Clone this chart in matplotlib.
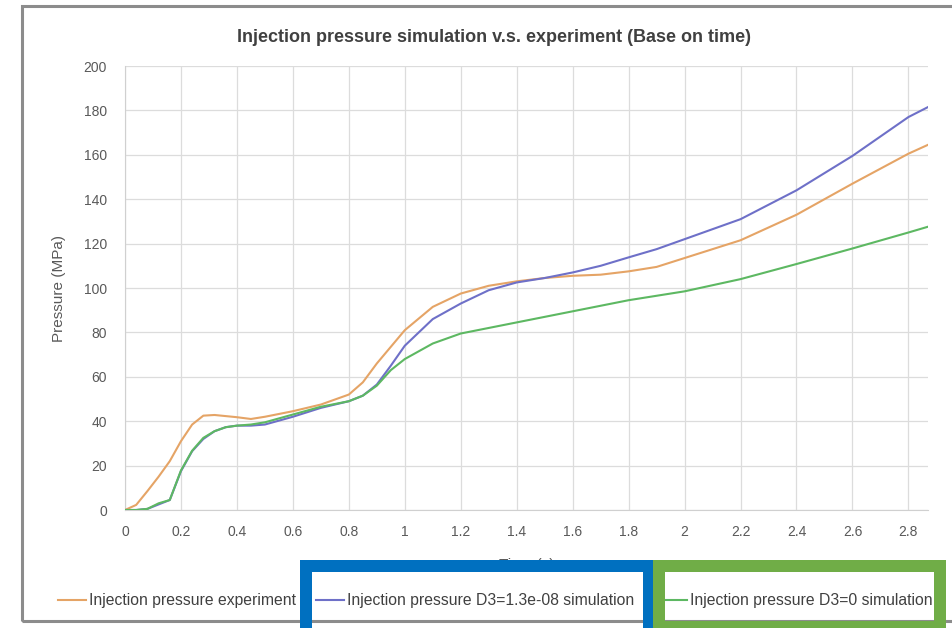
import matplotlib
matplotlib.use("Agg")
import matplotlib.pyplot as plt
from matplotlib.patches import Rectangle

plt.rcParams['font.family'] = ['Liberation Sans', 'DejaVu Sans']

# ---- data ----
time_s = [0, 0.04, 0.08, 0.12, 0.16, 0.2, 0.24, 0.28, 0.32, 0.36, 0.4, 0.45, 0.5,
          0.6, 0.7, 0.8, 0.85, 0.9, 0.95, 1.0, 1.1, 1.2, 1.3, 1.4, 1.5, 1.6, 1.7,
          1.8, 1.9, 2.0, 2.2, 2.4, 2.6, 2.8, 2.87]
p_experiment = [0, 2.3, 8.5, 15, 22, 31, 38.5, 42.5, 42.8, 42.3, 41.8, 41, 42,
                44.5, 47.5, 52, 57.5, 66, 73.5, 81, 91.5, 97.5, 101, 103, 104.5, 105.5, 106,
                107.5, 109.5, 113.5, 121.5, 133, 147, 160.5, 164.5]
p_sim_d3 = [0, 0, 0.5, 2.5, 4.5, 17.5, 26.5, 32, 35.5, 37.3, 38, 38, 38.5,
            42, 46, 49, 51.5, 56.5, 65, 74, 86, 93, 99, 102.5, 104.5, 107, 110,
            113.8, 117.5, 122, 131, 144, 159.5, 177, 181.5]
p_sim_d0 = [0, 0, 0.5, 3, 4.5, 17.8, 26.7, 32.5, 35.5, 37.3, 38, 38.5, 39.5,
            43, 46.5, 49, 51.5, 56, 63, 68, 75, 79.5, 82, 84.5, 87, 89.5, 92,
            94.5, 96.5, 98.5, 104, 110.8, 117.8, 125, 127.6]
series_labels = ["Injection pressure experiment",
                 "Injection pressure D3=1.3e-08 simulation",
                 "Injection pressure D3=0 simulation"]
series_colors = ["#E5A466", "#6E70C8", "#5DB862"]
x_ticks = [0, 0.2, 0.4, 0.6, 0.8, 1, 1.2, 1.4, 1.6, 1.8, 2, 2.2, 2.4, 2.6, 2.8]
x_ticklabels = ["0", "0.2", "0.4", "0.6", "0.8", "1", "1.2", "1.4", "1.6", "1.8",
                "2", "2.2", "2.4", "2.6", "2.8"]
y_ticks = [0, 20, 40, 60, 80, 100, 120, 140, 160, 180, 200]

W, H = 953, 628
fig = plt.figure(figsize=(W / 100, H / 100), dpi=100)
fig.patch.set_facecolor("white")

def fx(px):
    return px / W

def fy(py):
    return 1 - py / H

ax = fig.add_axes([fx(125), fy(510), fx(928) - fx(125), fy(66) - fy(510)])
lines = []
for vals, lab, col in zip([p_experiment, p_sim_d3, p_sim_d0], series_labels, series_colors):
    ln, = ax.plot(time_s, vals, color=col, lw=1.5, label=lab, zorder=3)
    lines.append(ln)

ax.set_xlim(0, 2.87)
ax.set_ylim(0, 200)
ax.set_xticks(x_ticks)
ax.set_xticklabels(x_ticklabels)
ax.set_yticks(y_ticks)
ax.grid(True, color="#DCDCDC", lw=0.9)
ax.set_axisbelow(True)
for s in ["top", "right"]:
    ax.spines[s].set_visible(False)
for s in ["left", "bottom"]:
    ax.spines[s].set_color("#D0D0D0")
ax.tick_params(axis="both", length=0, labelsize=10, labelcolor="#595959")
ax.tick_params(axis="y", pad=13)
ax.tick_params(axis="x", pad=11)
ax.set_ylabel("Pressure (MPa)", fontsize=11, color="#595959")
ax.yaxis.set_label_coords((66 - 125) / (928 - 125), 0.5)

fig.text(fx(494), fy(37), "Injection pressure simulation v.s. experiment (Base on time)",
         ha="center", va="center", fontsize=13, fontweight="bold", color="#404040")
fig.text(fx(527), fy(565), "Time (s)", ha="center", va="center", fontsize=11, color="#595959")

# legend entries placed individually
for ln, lab, x0 in zip(lines, series_labels, [58, 316, 659]):
    fig.legend([ln], [lab], loc="center left", bbox_to_anchor=(fx(x0), fy(601)),
               frameon=False, fontsize=11.3, handlelength=1.8, handletextpad=0.15,
               borderpad=0, borderaxespad=0, labelcolor="#404040")

# outer chart frame
fig.add_artist(Rectangle((fx(22), fy(621)), 1.2, fy(6) - fy(621), transform=fig.transFigure,
                         fill=False, edgecolor="#8C8C8C", lw=2.2, zorder=0.5))

# highlight boxes
px2pt = 72 / 100
fig.add_artist(Rectangle((fx(305.5), fy(634)), fx(648.5) - fx(305.5), fy(566) - fy(634),
                         transform=fig.transFigure, fill=False, edgecolor="#0070C0",
                         lw=12 * px2pt, zorder=10))
fig.add_artist(Rectangle((fx(659), fy(627)), fx(940) - fx(659), fy(566) - fy(627),
                         transform=fig.transFigure, fill=False, edgecolor="#70AD47",
                         lw=12 * px2pt, zorder=10))

fig.savefig("out.png", dpi=100, facecolor="white")
